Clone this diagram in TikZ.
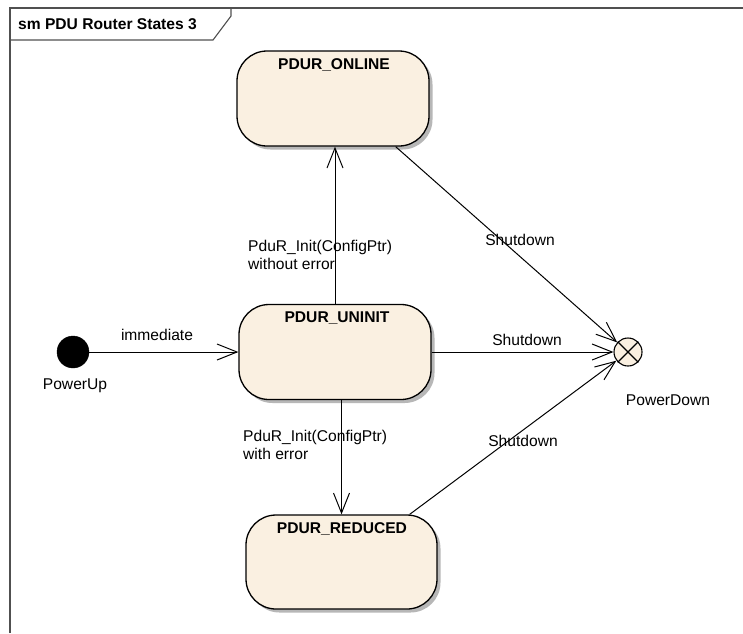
\documentclass[tikz,border=0pt]{standalone}
\usepackage{fontspec}
\setmainfont{Liberation Sans}
\usetikzlibrary{arrows.meta,shadows}
\definecolor{statefill}{RGB}{250,240,225}
\definecolor{framegray}{RGB}{80,80,80}
\tikzset{
  statebox/.style={draw=black, line width=1.3pt, fill=statefill, rounded corners=30pt,
    minimum width=192pt, minimum height=95pt, inner sep=0pt,
    drop shadow={shadow xshift=3.5pt, shadow yshift=-3.5pt, fill=black!35, opacity=0.8}},
  statetitle/.style={font=\fontsize{15.6}{18}\selectfont\bfseries},
  lbl/.style={font=\fontsize{15.6}{18}\selectfont, inner sep=0pt},
  trans/.style={draw=black, line width=1pt, -{Straight Barb[length=20pt,width=16pt,line width=1pt]}},
}
\begin{document}
\begin{tikzpicture}[x=1pt,y=-1pt]
  \useasboundingbox (0,0) rectangle (743,633);
  \fill[white] (0,0) rectangle (743,633);

  % diagram frame and its name tab
  \draw[framegray, line width=1.3pt] (10,633) -- (10,8) -- (743,8);
  \draw[framegray, line width=1.1pt] (10,40) -- (213,40) -- (231,16) -- (231,8);
  \node[font=\fontsize{15.6}{18}\selectfont\bfseries, anchor=west, inner sep=0pt] (title) at (18,24) {sm PDU Router States 3};

  % states
  \node[statebox] (online) at (333,98.5) {};
  \node[statetitle] (onlineT) at (334,65) {PDUR\_ONLINE};
  \node[statebox] (uninit) at (335,352) {};
  \node[statetitle] (uninitT) at (337,318) {PDUR\_UNINIT};
  \node[statebox, minimum height=94pt, minimum width=191pt] (reduced) at (341.5,562) {};
  \node[statetitle] (reducedT) at (342,529) {PDUR\_REDUCED};

  % pseudo states
  \node[circle, fill=black, draw=black, minimum size=32pt, inner sep=0pt] (pu) at (73,352) {};
  \node[lbl] (puL) at (75,386) {PowerUp};
  \node[circle, fill=statefill, draw=black, line width=1.1pt, minimum size=28pt, inner sep=0pt] (pd) at (628,352) {};
  \draw[line width=1.1pt] (pd.north west) -- (pd.south east) (pd.north east) -- (pd.south west);
  \node[lbl] (pdL) at (668,400) {PowerDown};

  % transitions
  \draw[trans] (pu) -- (uninit.west);
  \node[lbl] (immL) at (157,335) {immediate};

  \draw[trans] (uninit.north) -- (uninit.north |- online.south);
  \node[lbl, align=left, anchor=north west] (initOk) at (248,240) {PduR\_Init(ConfigPtr)\\without error};

  \draw[trans] (reduced.north |- uninit.south) -- (reduced.north);
  \node[lbl, align=left, anchor=north west] (initErr) at (243,430) {PduR\_Init(ConfigPtr)\\with error};

  \draw[trans] ([xshift=-34pt]online.south east) -- (pd);
  \node[lbl] (sd1) at (520,240) {Shutdown};
  \draw[trans] (uninit.east) -- (pd);
  \node[lbl] (sd2) at (527,340) {Shutdown};
  \draw[trans] ([xshift=-28pt]reduced.north east) -- (pd);
  \node[lbl] (sd3) at (523,441) {Shutdown};
\end{tikzpicture}
\end{document}
